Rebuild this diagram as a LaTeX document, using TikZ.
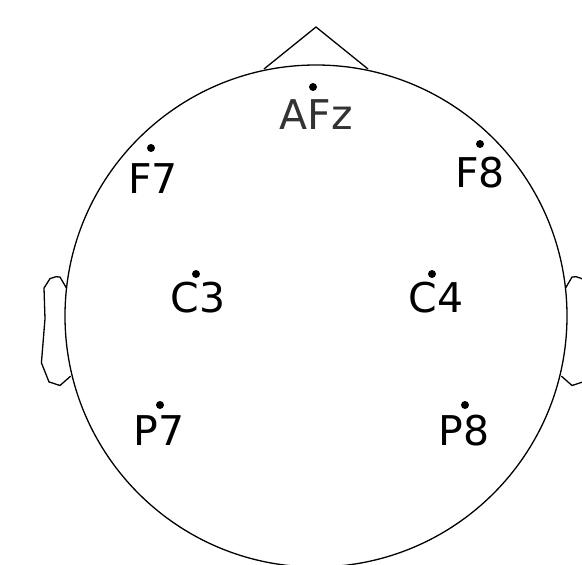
\documentclass[tikz,border=0pt]{standalone}
\usepackage{fontspec}
\setmainfont{DejaVu Sans}
\usepackage{xcolor}
\usepackage{tikz}
\usetikzlibrary{positioning, calc}

\begin{document}
\begin{tikzpicture}[x=1pt, y=-1pt,
		elec/.style={circle, fill=black, inner sep=0pt, minimum size=8pt},
		chname/.style={font=\fontsize{41}{41}\selectfont, anchor=base, inner sep=0pt},
		outline/.style={line width=1.3pt, line join=miter}]
	\useasboundingbox (0,0) rectangle (582,565);
	\clip (0,0) rectangle (582,565);
	% head, nose and ears
	\coordinate (centre) at (316,316);
	\draw[outline] (centre) circle[radius=251];
	\draw[outline] (264,69) -- (316,27) -- (368,69);
	\draw[outline] (66.5,288.1) -- (60,277.1) -- (56,276.7) -- (50,278.6) -- (44,288.1) -- (45,318.8) -- (41.4,362.8) -- (49,381.9) -- (60,385.5) -- (70.5,376.2);
	\draw[outline] (565.5,288.1) -- (572,277.1) -- (576,276.7) -- (582,278.6) -- (588,288.1) -- (587,318.8) -- (590.6,362.8) -- (583,381.9) -- (572,385.5) -- (561.5,376.2);
	% sensors
	\node[elec] (afz) at (313,87) {};
	\node[elec] (f7) at (151,148) {};
	\node[elec] (f8) at (480,144) {};
	\node[elec] (c3) at (196,274) {};
	\node[elec] (c4) at (432,274) {};
	\node[elec] (p7) at (160,405) {};
	\node[elec] (p8) at (465,405) {};
	% sensor names
	\node[chname, black!80] (afzname) at (316,129) {AFz};
	\node[chname] (f7name) at (153,193) {F7};
	\node[chname] (f8name) at (480,187) {F8};
	\node[chname] (c3name) at (198,312) {C3};
	\node[chname] (c4name) at (436,312) {C4};
	\node[chname] (p7name) at (159,445) {P7};
	\node[chname] (p8name) at (464,445) {P8};
\end{tikzpicture}
\end{document}
